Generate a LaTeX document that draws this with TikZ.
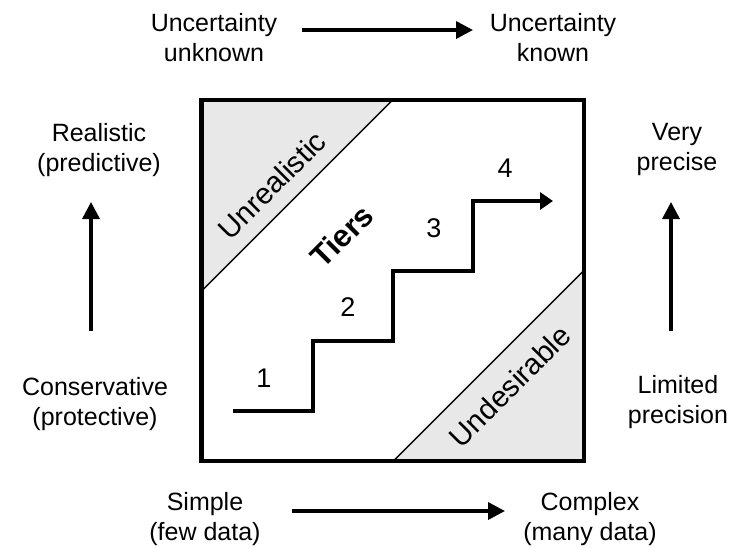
\documentclass[tikz,border=0pt]{standalone}
\usepackage{fontspec}
\setmainfont{Liberation Sans}
\usetikzlibrary{arrows.meta}
\begin{document}
\begin{tikzpicture}[x=1pt,y=-1pt,
  lbl/.style={align=center, inner sep=0pt, anchor=north, font=\fontsize{25}{30}\selectfont},
  zone/.style={inner sep=0pt, rotate=45, font=\fontsize{29.5}{34}\selectfont},
  num/.style={inner sep=0pt, font=\fontsize{27}{30}\selectfont},
  axis/.style={line width=3.5pt, -{Triangle[length=17pt,width=17pt]}},
  stair/.style={line width=3.5pt, line join=miter, -{Triangle[length=13pt,width=17pt]}},
  tri/.style={fill=black!9, draw=black, line width=1.3pt},
  frame/.style={draw=black, line width=4.5pt, line join=miter}]
\useasboundingbox (0,0) rectangle (730,547);

% main box
\node[inner sep=0pt, minimum width=382.5pt, minimum height=361pt] (box) at (392.75,280.5) {};
\draw[tri] (box.north west) -- ++(191.5,0) -- ++(-191.5,191.5) -- cycle;
\draw[tri] (box.south east) -- ++(-191,0) -- ++(191,-191) -- cycle;
\draw[frame] (box.north west) rectangle (box.south east);

% zone labels
\node[zone] (un) at (272,185) {Unrealistic};
\node[zone] (ud) at (510,386) {Undesirable};
\node[zone, font=\bfseries\fontsize{31}{34}\selectfont] (ti) at (342,236) {Tiers};

% staircase
\coordinate (s0) at (233,411);
\coordinate (s1) at (313,341);
\coordinate (s2) at (393,271);
\coordinate (s3) at (473,201);
\coordinate (s4) at (553,201);
\draw[stair] (s0) -| (s1) -| (s2) -| (s3) -- (s4);
\node[num] (n1) at (264,378) {1};
\node[num] (n2) at (348,307) {2};
\node[num] (n3) at (434,228) {3};
\node[num] (n4) at (505,168) {4};

% outer labels
\node[lbl] (uu) at (214,13) {Uncertainty\\unknown};
\node[lbl] (uk) at (553,13) {Uncertainty\\known};
\node[lbl] (re) at (99,123) {Realistic\\(predictive)};
\node[lbl] (co) at (95,377) {Conservative\\(protective)};
\node[lbl] (vp) at (677,123) {Very\\precise};
\node[lbl] (lp) at (678,375) {Limited\\precision};
\node[lbl] (si) at (205,492) {Simple\\(few data)};
\node[lbl] (cx) at (590,492) {Complex\\(many data)};

% axis arrows
\coordinate (t1) at (302,30);  \coordinate (t2) at (473,30);
\coordinate (b1) at (292,511); \coordinate (b2) at (505,511);
\coordinate (l1) at (91,331);  \coordinate (l2) at (91,202);
\coordinate (r1) at (671,331); \coordinate (r2) at (671,202);
\draw[axis] (t1) -- (t2);
\draw[axis] (b1) -- (b2);
\draw[axis] (l1) -- (l2);
\draw[axis] (r1) -- (r2);
\end{tikzpicture}
\end{document}
